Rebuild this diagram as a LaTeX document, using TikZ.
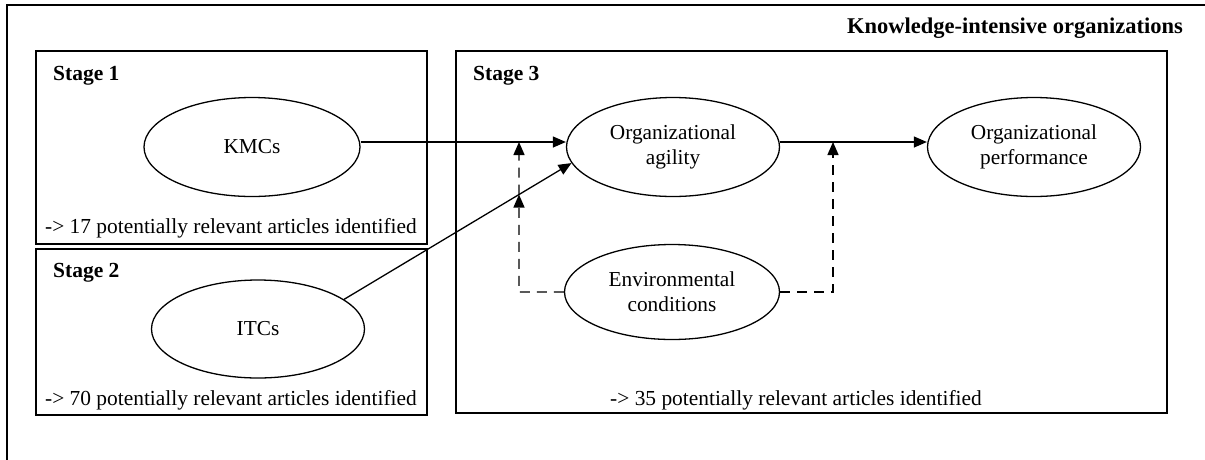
\documentclass[tikz,border=0pt]{standalone}
\usepackage{fontspec}
\setmainfont{Liberation Serif}
\usetikzlibrary{shapes.geometric,arrows.meta,intersections,calc}
\begin{document}
\begin{tikzpicture}[x=1pt,y=-1pt,
  frame/.style={draw=black,line width=1.4pt},
  oval/.style={ellipse,draw=black,line width=1.3pt,inner sep=0pt,align=center,
    font=\fontsize{21.3}{25}\selectfont},
  lbl/.style={inner sep=0pt,font=\fontsize{21.4}{25}\selectfont},
  bl/.style={inner sep=0pt,font=\fontsize{21.5}{25}\selectfont\bfseries},
  link/.style={line width=1.3pt,-{Triangle[length=13pt,width=11pt]}},
  mod/.style={line width=1.4pt,dash pattern=on 10pt off 7pt},
  modarr/.style={mod,-{Triangle[length=13pt,width=11pt]}}]
\clip (0,0) rectangle (1205,459);
\fill[white] (0,0) rectangle (1205,459);
% outer frame (extends beyond the picture at right and bottom)
\draw[frame] (7,5) rectangle (1230,480);
\node[bl,anchor=base east,font=\fontsize{22.5}{26}\selectfont\bfseries] (title) at (1183,33) {Knowledge-intensive organizations};
% stage boxes
\draw[frame] (36,51) rectangle (427,244);
\draw[frame] (36,249) rectangle (427,415);
\draw[frame] (456,51) rectangle (1167,413);
\node[bl,anchor=base west] (s1) at (53,80) {Stage 1};
\node[bl,anchor=base west] (s2) at (53,277) {Stage 2};
\node[bl,anchor=base west] (s3) at (473,80) {Stage 3};
\node[lbl,anchor=base west] (n1) at (45,233) {-> 17 potentially relevant articles identified};
\node[lbl,anchor=base west] (n2) at (45,405) {-> 70 potentially relevant articles identified};
\node[lbl,anchor=base west] (n3) at (610,405) {-> 35 potentially relevant articles identified};
% ellipses
\node[oval,minimum width=216pt,minimum height=99pt] (kmc) at (252,147) {KMCs};
\node[oval,minimum width=213pt,minimum height=98pt] (itc) at (258,329) {ITCs};
\node[oval,minimum width=213pt,minimum height=99pt] (agil) at (673,147) {Organizational\\agility};
\node[oval,minimum width=213pt,minimum height=99pt] (perf) at (1034,147) {Organizational\\performance};
\node[oval,minimum width=215pt,minimum height=95pt] (env) at (672,292) {Environmental\\conditions};
% main links
\coordinate (h1) at ([yshift=5pt]agil.west);
\coordinate (h2) at ([yshift=5pt]agil.east);
\draw[link] ([yshift=5pt]kmc.east) -- (h1);
\draw[link] (h2) -- ([yshift=5pt]perf.west);
\draw[link,name path=itcline] (itc.19) -- (agil.189);
% moderating links
\coordinate (cL) at (519,292);
\coordinate (cR) at (833,292);
\path[name path=vline] (519,320) -- (519,120);
\path[name intersections={of=itcline and vline,by=x1}];
\draw[modarr] (env.west) -- (cL) -- (x1);
\draw[modarr] (x1) -- (cL |- h1);
\draw[modarr] (env.east) -- (cR) -- (cR |- h2);
\end{tikzpicture}
\end{document}
